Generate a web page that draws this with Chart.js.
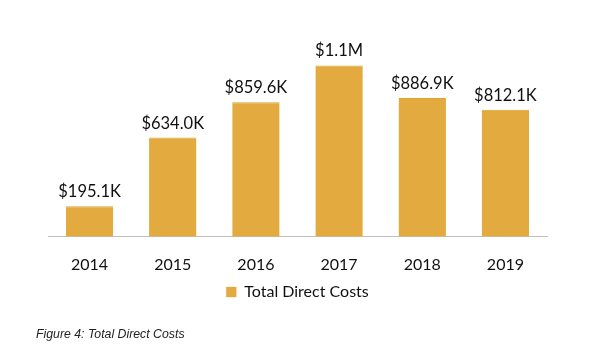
<!DOCTYPE html>
<html><head><meta charset="utf-8">
<script src="https://cdn.jsdelivr.net/npm/chart.js@4"></script>
<style>
html,body{margin:0;padding:0;background:#fff;}
#wrap{position:relative;width:600px;height:355px;}
#cap{position:absolute;left:36px;top:327px;font:italic 12.3px "Liberation Sans",Arial,sans-serif;color:#222;}
</style></head>
<body>
<div id="wrap"><canvas id="c" width="600" height="355"></canvas>
<div id="cap">Figure 4: Total Direct Costs</div></div>
<script>
const categories = ['2014','2015','2016','2017','2018','2019'];
const totalDirectCosts = [195100, 634000, 859600, 1095000, 886900, 812100];
const valueLabels = ['$195.1K','$634.0K','$859.6K','$1.1M','$886.9K','$812.1K'];
const seriesName = 'Total Direct Costs';

const labelPlugin = {
  id: 'valueLabels',
  afterDatasetsDraw(chart) {
    const ctx = chart.ctx;
    const meta = chart.getDatasetMeta(0);
    ctx.save();
    ctx.font = '16.5px Lato';
    ctx.fillStyle = '#111';
    ctx.textAlign = 'center';
    ctx.textBaseline = 'alphabetic';
    meta.data.forEach((bar, i) => {
      ctx.fillText(valueLabels[i], bar.x, bar.y - 9);
    });
    ctx.restore();
  }
};

new Chart(document.getElementById('c'), {
  type: 'bar',
  data: {
    labels: categories,
    datasets: [{
      label: seriesName,
      data: totalDirectCosts,
      backgroundColor: '#E3AB3F',
      borderColor: '#DDA232',
      borderWidth: {top: 1, left: 0, right: 0, bottom: 0},
      barPercentage: 0.57,
      categoryPercentage: 1
    }]
  },
  options: {
    responsive: false,
    animation: false,
    layout: {padding: {left: 48, right: 53, top: 49, bottom: 45}},
    plugins: {
      legend: {
        position: 'bottom',
        labels: {boxWidth: 10, boxHeight: 10, padding: 8, color: '#111', font: {family: 'Lato', size: 16}}
      },
      tooltip: {enabled: false}
    },
    scales: {
      x: {
        grid: {display: false, drawTicks: false},
        border: {display: true, color: '#BFBFBF', width: 1},
        ticks: {padding: 18, color: '#111', font: {family: 'Lato', size: 16}},
        afterFit(scale) { scale.height -= 16; }
      },
      y: {display: false, min: 0, max: 1200000}
    }
  },
  plugins: [labelPlugin]
});
</script>
</body></html>
